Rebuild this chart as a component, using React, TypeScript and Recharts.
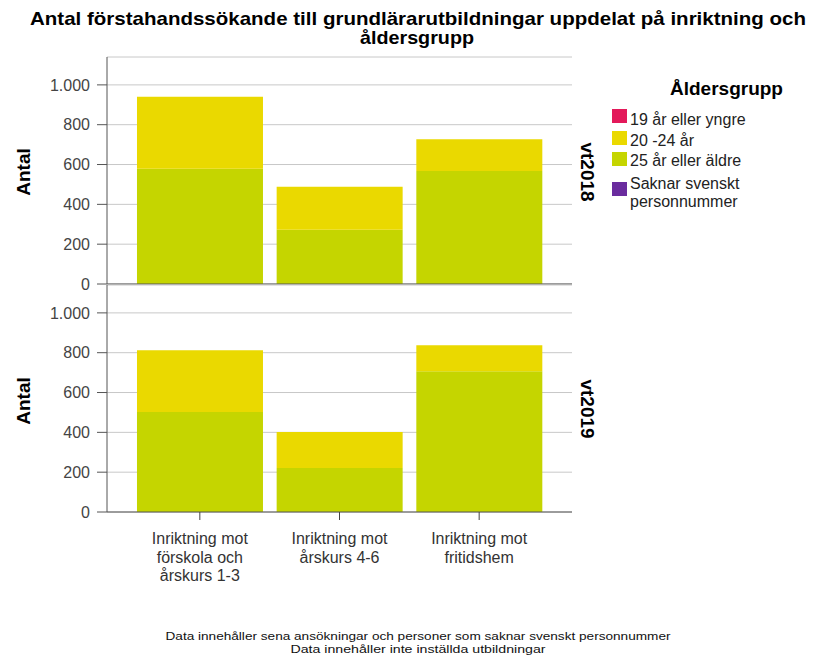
import React from "react";
import { BarChart, Bar, XAxis, YAxis, CartesianGrid } from "recharts";

// ---- Data ----
const categories = [
  "Inriktning mot förskola och årskurs 1-3",
  "Inriktning mot årskurs 4-6",
  "Inriktning mot fritidshem",
];
const categoryLabelLines: string[][] = [
  ["Inriktning mot", "förskola och", "årskurs 1-3"],
  ["Inriktning mot", "årskurs 4-6"],
  ["Inriktning mot", "fritidshem"],
];
const seriesKeys = ["under19", "age20to24", "age25plus", "noPnr"];
const seriesNames = ["19 år eller yngre", "20 -24 år", "25 år eller äldre", "Saknar svenskt personnummer"];
const legendLines: string[][] = [["19 år eller yngre"], ["20 -24 år"], ["25 år eller äldre"], ["Saknar svenskt", "personnummer"]];
const seriesColors = ["#E3195A", "#EAD900", "#C5D500", "#6A2C9E"];

const vt2018Under19 = [0, 0, 0];
const vt2018Age20to24 = [361, 216, 160];
const vt2018Age25plus = [579, 272, 567];
const vt2018NoPnr = [0, 0, 0];

const vt2019Under19 = [0, 0, 0];
const vt2019Age20to24 = [310, 181, 131];
const vt2019Age25plus = [502, 221, 707];
const vt2019NoPnr = [0, 0, 0];

const panelNames = ["vt2018", "vt2019"];
const yTicks = [0, 200, 400, 600, 800, 1000];
const yDomainMax = 1140;

const titleLines = [
  "Antal förstahandssökande till grundlärarutbildningar uppdelat på inriktning och",
  "åldersgrupp",
];
const footnoteLines = [
  "Data innehåller sena ansökningar och personer som saknar svenskt personnummer",
  "Data innehåller inte inställda utbildningar",
];
const yAxisTitle = "Antal";
const legendTitle = "Åldersgrupp";

const buildData = (a: number[], b: number[], c: number[], d: number[]) =>
  categories.map((cat, i) => ({
    category: cat,
    under19: a[i],
    age20to24: b[i],
    age25plus: c[i],
    noPnr: d[i],
  }));

const data2018 = buildData(vt2018Under19, vt2018Age20to24, vt2018Age25plus, vt2018NoPnr);
const data2019 = buildData(vt2019Under19, vt2019Age20to24, vt2019Age25plus, vt2019NoPnr);

const FONT = "'Liberation Sans', Arial, Helvetica, sans-serif";
const fmt = (v: number) => String(v).replace(/\B(?=(\d{3})+(?!\d))/g, ".");

// stacking order bottom -> top
const stackOrder = [3, 2, 1, 0];

const XTick = (props: any) => {
  const { x, y, payload } = props;
  const idx = categories.indexOf(payload.value);
  const lines = categoryLabelLines[idx] || [payload.value];
  return (
    <text x={x} y={y} textAnchor="middle" fill="#333" fontSize={16} fontFamily={FONT}>
      {lines.map((l, i) => (
        <tspan key={i} x={x} y={y + 22 + i * 18.5}>
          {l}
        </tspan>
      ))}
    </text>
  );
};

const yAxisCommon = {
  width: 60,
  domain: [0, yDomainMax] as [number, number],
  ticks: yTicks,
  tickFormatter: fmt,
  tickSize: 10,
  tickMargin: 7,
  tick: { fill: "#444", fontSize: 16, fontFamily: FONT },
  axisLine: { stroke: "#555" },
  tickLine: { stroke: "#555" },
  allowDataOverflow: true,
};

const renderBars = () =>
  stackOrder.map((si) => (
    <Bar
      key={seriesKeys[si]}
      dataKey={seriesKeys[si]}
      name={seriesNames[si]}
      stackId="s"
      fill={seriesColors[si]}
      isAnimationActive={false}
    />
  ));

export default function App() {
  return (
    <div style={{ position: "relative", width: 815, height: 661, background: "#fff", overflow: "hidden" }}>
      <style>{`body{margin:0;background:#fff}`}</style>
      <div style={{ position: "absolute", left: 0, top: 0 }}>
        <BarChart
          width={815}
          height={661}
          data={data2018}
          margin={{ top: 57, right: 243, left: 47, bottom: 376 }}
          barCategoryGap="5%"
        >
          <CartesianGrid vertical={false} stroke="#c8c8c8" />
          <XAxis
            dataKey="category"
            height={1}
            tick={false}
            tickLine={false}
            axisLine={{ stroke: "#555" }}
            padding={{ left: 23, right: 23 }}
          />
          <YAxis {...yAxisCommon} />
          {renderBars()}
        </BarChart>
      </div>
      <div style={{ position: "absolute", left: 0, top: 0 }}>
        <BarChart
          width={815}
          height={661}
          data={data2019}
          margin={{ top: 285, right: 243, left: 47, bottom: 69 }}
          barCategoryGap="5%"
        >
          <CartesianGrid vertical={false} stroke="#c8c8c8" />
          <XAxis
            dataKey="category"
            height={80}
            tick={<XTick />}
            tickSize={8}
            tickLine={{ stroke: "#444" }}
            axisLine={{ stroke: "#555" }}
            interval={0}
            padding={{ left: 23, right: 23 }}
          />
          <YAxis {...yAxisCommon} />
          {renderBars()}
        </BarChart>
      </div>
      <svg
        width={815}
        height={661}
        style={{ position: "absolute", left: 0, top: 0, pointerEvents: "none" }}
        fontFamily={FONT}
      >
        <text x={418} y={25} textAnchor="middle" fontSize={19} fontWeight="bold" fill="#000" textLength={776} lengthAdjust="spacingAndGlyphs">
          {titleLines[0]}
        </text>
        <text x={417} y={44} textAnchor="middle" fontSize={19} fontWeight="bold" fill="#000" textLength={114} lengthAdjust="spacingAndGlyphs">
          {titleLines[1]}
        </text>

        <text transform="translate(30,172) rotate(-90)" textAnchor="middle" fontSize={19} fontWeight="bold" fill="#000">
          {yAxisTitle}
        </text>
        <text transform="translate(30,401) rotate(-90)" textAnchor="middle" fontSize={19} fontWeight="bold" fill="#000">
          {yAxisTitle}
        </text>

        <text transform="translate(581,172) rotate(90)" textAnchor="middle" fontSize={19} fontWeight="bold" fill="#000">
          {panelNames[0]}
        </text>
        <text transform="translate(581,409) rotate(90)" textAnchor="middle" fontSize={19} fontWeight="bold" fill="#000">
          {panelNames[1]}
        </text>

        <text x={670} y={95} fontSize={19} fontWeight="bold" fill="#000">
          {legendTitle}
        </text>
        {[109, 131, 152, 182].map((ry, i) => (
          <rect key={i} x={612} y={ry} width={15} height={14} fill={seriesColors[i]} />
        ))}
        {[125, 146, 166, 189].map((by, i) => (
          <text key={i} x={630} y={by} fontSize={16} fill="#222">
            {legendLines[i].map((l, j) => (
              <tspan key={j} x={630} y={by + j * 17.5}>
                {l}
              </tspan>
            ))}
          </text>
        ))}

        <text x={418} y={640} textAnchor="middle" fontSize={11.5} fill="#111" textLength={505} lengthAdjust="spacingAndGlyphs">
          {footnoteLines[0]}
        </text>
        <text x={418} y={652.5} textAnchor="middle" fontSize={11.5} fill="#111" textLength={255} lengthAdjust="spacingAndGlyphs">
          {footnoteLines[1]}
        </text>
      </svg>
    </div>
  );
}
